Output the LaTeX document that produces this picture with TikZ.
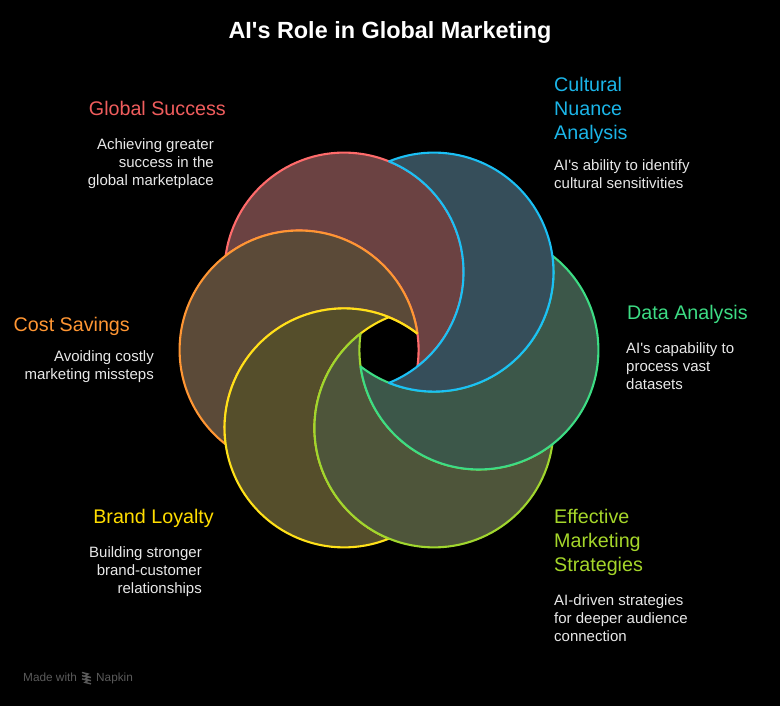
\documentclass[tikz,border=0pt]{standalone}
\usepackage{fontspec}
\setmainfont{Liberation Sans}[Ligatures=TeXOff]
\definecolor{cred}{HTML}{FF6B6B}\definecolor{fred}{HTML}{6B4242}\definecolor{tred}{HTML}{F05D5D}
\definecolor{corange}{HTML}{FF9633}\definecolor{forange}{HTML}{5B4A38}\definecolor{torange}{HTML}{FF9633}
\definecolor{cyellow}{HTML}{FFE119}\definecolor{fyellow}{HTML}{554E2B}\definecolor{tyellow}{HTML}{FFDD00}
\definecolor{clime}{HTML}{A0D62E}\definecolor{flime}{HTML}{4E553A}\definecolor{tlime}{HTML}{A5D62A}
\definecolor{cgreen}{HTML}{3DDC84}\definecolor{fgreen}{HTML}{3C5749}\definecolor{tgreen}{HTML}{3DDC84}
\definecolor{cblue}{HTML}{1BC0F5}\definecolor{fblue}{HTML}{364E5A}\definecolor{tblue}{HTML}{1BB5E8}
\definecolor{tbody}{HTML}{E8E8E8}\definecolor{tmark}{HTML}{5A5A5A}
\tikzset{
  petal/.style={line width=2.1pt,line join=round},
  headtext/.style={inner sep=0pt,font=\fontsize{19.7}{24}\selectfont},
  bodytext/.style={inner sep=0pt,text=tbody,font=\fontsize{15}{18}\selectfont},
  marktext/.style={inner sep=0pt,text=tmark,font=\fontsize{11.8}{13}\selectfont},
}
\begin{document}
\begin{tikzpicture}[x=1pt,y=1pt]
\fill[black] (0,0) rectangle (780,706);
\useasboundingbox (0,0) rectangle (780,706);
\node[inner sep=0pt,text=white,anchor=base,font=\fontsize{23.4}{28}\selectfont\bfseries] (title) at (390,667) {AI's Role in Global Marketing};
\begin{scope}[shift={(389,356)}]
\foreach \a/\nm in {120/red,180/orange,240/yellow,300/lime,360/green,420/blue}{
  \filldraw[petal,draw=c\nm,fill=f\nm]
    (\a+30:188.6) arc[start angle=\a+52.1,end angle=\a-172.1,radius=119.5]
    arc[start angle=\a-127.9,end angle=\a+7.9,radius=119.5] -- cycle;
}
\draw[petal,draw=cyellow] (90:32.7) arc[start angle=67.9,end angle=52.1,radius=119.5];
\end{scope}
\node[headtext,text=tred,anchor=base east] (h1) at (226,590.5) {Global Success};
\node[bodytext,anchor=base east,align=right] (b1) at (214,520) {Achieving greater\\success in the\\global marketplace};
\node[headtext,text=tblue,anchor=base west,align=left] (h2) at (554,566.3) {Cultural\\Nuance\\Analysis};
\node[bodytext,anchor=base west,align=left] (b2) at (554,517) {AI's ability to identify\\cultural sensitivities};
\node[headtext,text=tgreen,anchor=base west] (h3) at (627,386.5) {Data Analysis};
\node[bodytext,anchor=base west,align=left] (b3) at (626,316) {AI's capability to\\process vast\\datasets};
\node[headtext,text=tlime,anchor=base west,align=left] (h4) at (554,134.5) {Effective\\Marketing\\Strategies};
\node[bodytext,anchor=base west,align=left] (b4) at (554,64) {AI-driven strategies\\for deeper audience\\connection};
\node[headtext,text=tyellow,anchor=base east] (h5) at (214,182.5) {Brand Loyalty};
\node[bodytext,anchor=base east,align=right] (b5) at (202,112) {Building stronger\\brand-customer\\relationships};
\node[headtext,text=torange,anchor=base east] (h6) at (130,374.5) {Cost Savings};
\node[bodytext,anchor=base east,align=right] (b6) at (154,326) {Avoiding costly\\marketing missteps};
\node[marktext,anchor=base west] (m1) at (23,24) {Made with};
\node[marktext,anchor=base west] (m2) at (96,24) {Napkin};
\foreach \d in {0,3.2,6.4}{
  \draw[tmark,line width=1.4pt] (82,{33.5-\d}) -- (88,{32-\d}) -- (85,{30-\d}) -- (91,{28.5-\d});
}
\end{tikzpicture}
\end{document}
